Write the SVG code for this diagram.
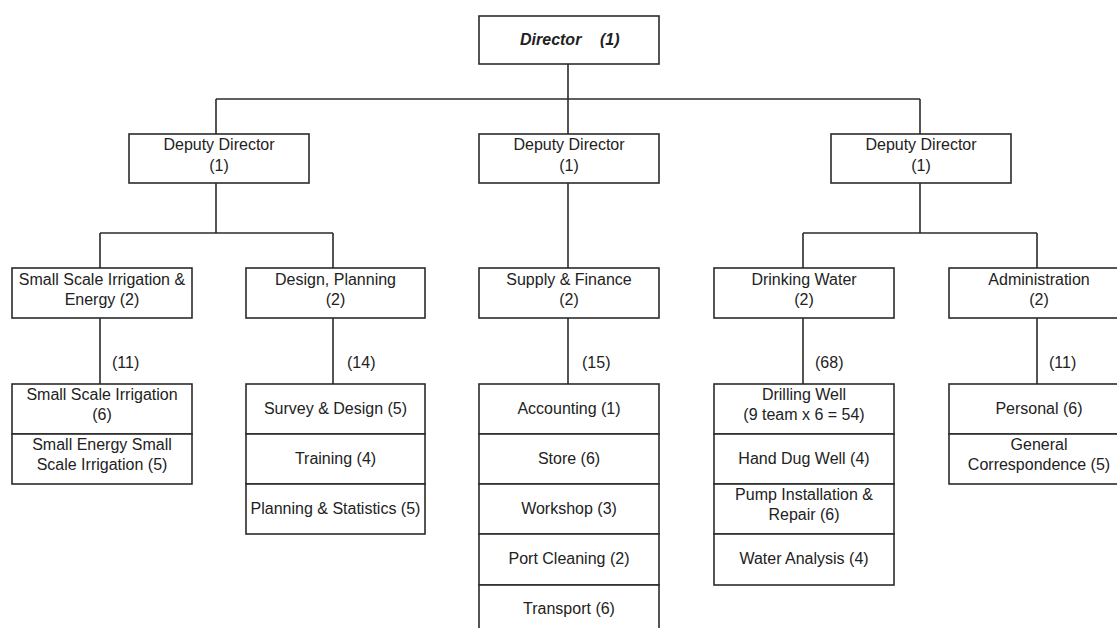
<svg xmlns="http://www.w3.org/2000/svg" width="1117" height="628" viewBox="0 0 1117 628">
<style>
.box{fill:#fff;stroke:#2b2b2b;stroke-width:1.6}
.ln{fill:none;stroke:#2b2b2b;stroke-width:1.6}
text{font-family:"Liberation Sans",Arial,sans-serif;font-size:16px;fill:#222}
.c{text-anchor:middle}
.bi{font-weight:bold;font-style:italic}
</style>
<rect width="1117" height="628" fill="#fff"/>
<g id="connectors">
<path class="ln" d="M568,64V99M216,99H920M216,99V134M568,99V134M920,99V134"/>
<path class="ln" d="M216,183V233M100,233H333M100,233V268M333,233V268"/>
<path class="ln" d="M568,183V268"/>
<path class="ln" d="M920,183V233M803,233H1037M803,233V268M1037,233V268"/>
<path class="ln" d="M100,318V384M333,318V384M568,318V384M803,318V384M1037,318V384"/>
<text x="112" y="368">(11)</text>
<text x="347" y="368">(14)</text>
<text x="582" y="368">(15)</text>
<text x="815" y="368">(68)</text>
<text x="1049" y="368">(11)</text>
</g>
<g id="director">
<rect class="box" x="479" y="16" width="180" height="48"/>
<text class="bi" y="45"><tspan x="520">Director</tspan><tspan x="600">(1)</tspan></text>
</g>
<g id="deputy-left">
<rect class="box" x="129" y="134" width="180" height="49"/>
<text class="c" x="219" y="150">Deputy Director</text>
<text class="c" x="219" y="171">(1)</text>
</g>
<g id="deputy-middle">
<rect class="box" x="479" y="134" width="180" height="49"/>
<text class="c" x="569" y="150">Deputy Director</text>
<text class="c" x="569" y="171">(1)</text>
</g>
<g id="deputy-right">
<rect class="box" x="831" y="134" width="180" height="49"/>
<text class="c" x="921" y="150">Deputy Director</text>
<text class="c" x="921" y="171">(1)</text>
</g>
<g id="ssi-energy">
<rect class="box" x="12" y="268" width="180" height="50"/>
<text class="c" x="102" y="285">Small Scale Irrigation &amp;</text>
<text class="c" x="102" y="305">Energy (2)</text>
</g>
<g id="design-planning">
<rect class="box" x="246" y="268" width="179" height="50"/>
<text class="c" x="335.5" y="285">Design, Planning</text>
<text class="c" x="335.5" y="305">(2)</text>
</g>
<g id="supply-finance">
<rect class="box" x="479" y="268" width="180" height="50"/>
<text class="c" x="569" y="285">Supply &amp; Finance</text>
<text class="c" x="569" y="305">(2)</text>
</g>
<g id="drinking-water">
<rect class="box" x="714" y="268" width="180" height="50"/>
<text class="c" x="804" y="285">Drinking Water</text>
<text class="c" x="804" y="305">(2)</text>
</g>
<g id="administration">
<rect class="box" x="949" y="268" width="180" height="50"/>
<text class="c" x="1039" y="285">Administration</text>
<text class="c" x="1039" y="305">(2)</text>
</g>
<g id="ssi-units">
<rect class="box" x="12" y="384" width="180" height="50"/>
<rect class="box" x="12" y="434" width="180" height="50"/>
<text class="c" x="102" y="400">Small Scale Irrigation</text>
<text class="c" x="102" y="420">(6)</text>
<text class="c" x="102" y="450">Small Energy Small</text>
<text class="c" x="102" y="470">Scale Irrigation (5)</text>
</g>
<g id="design-units">
<rect class="box" x="246" y="384" width="179" height="50"/>
<rect class="box" x="246" y="434" width="179" height="50"/>
<rect class="box" x="246" y="484" width="179" height="50"/>
<text class="c" x="335.5" y="414">Survey &amp; Design (5)</text>
<text class="c" x="335.5" y="464">Training (4)</text>
<text class="c" x="335.5" y="514">Planning &amp; Statistics (5)</text>
</g>
<g id="supply-units">
<rect class="box" x="479" y="384" width="180" height="50"/>
<rect class="box" x="479" y="434" width="180" height="50"/>
<rect class="box" x="479" y="484" width="180" height="50"/>
<rect class="box" x="479" y="534" width="180" height="51"/>
<rect class="box" x="479" y="585" width="180" height="52"/>
<text class="c" x="569" y="414">Accounting (1)</text>
<text class="c" x="569" y="464">Store (6)</text>
<text class="c" x="569" y="514">Workshop (3)</text>
<text class="c" x="569" y="564">Port Cleaning (2)</text>
<text class="c" x="569" y="614">Transport (6)</text>
</g>
<g id="drinking-units">
<rect class="box" x="714" y="384" width="180" height="50"/>
<rect class="box" x="714" y="434" width="180" height="50"/>
<rect class="box" x="714" y="484" width="180" height="50"/>
<rect class="box" x="714" y="534" width="180" height="51"/>
<text class="c" x="804" y="400">Drilling Well</text>
<text class="c" x="804" y="420">(9 team x 6 = 54)</text>
<text class="c" x="804" y="464">Hand Dug Well (4)</text>
<text class="c" x="804" y="500">Pump Installation &amp;</text>
<text class="c" x="804" y="520">Repair (6)</text>
<text class="c" x="804" y="564">Water Analysis (4)</text>
</g>
<g id="admin-units">
<rect class="box" x="949" y="384" width="180" height="50"/>
<rect class="box" x="949" y="434" width="180" height="50"/>
<text class="c" x="1039" y="414">Personal (6)</text>
<text class="c" x="1039" y="450">General</text>
<text class="c" x="1039" y="470">Correspondence (5)</text>
</g>
</svg>
